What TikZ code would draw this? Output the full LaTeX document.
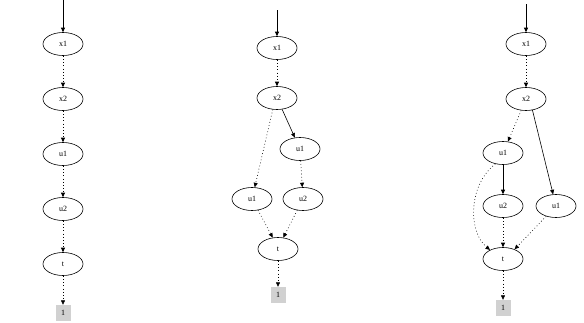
\documentclass[tikz,border=0pt]{standalone}
\usepackage{fontspec}
\setmainfont{Liberation Serif}
\usetikzlibrary{arrows.meta,shapes.geometric}
\begin{document}
\begin{tikzpicture}[x=1pt,y=-1pt,
  var/.style={draw,ellipse,line width=0.6pt,minimum width=40pt,minimum height=23pt,inner sep=0pt,font=\fontsize{8}{9}\selectfont},
  term/.style={fill=black!18,minimum width=15pt,minimum height=16pt,inner sep=0pt,font=\fontsize{8}{9}\selectfont},
  arr/.style={line width=0.6pt,-{Triangle[length=4.5pt,width=4pt]}},
  dot/.style={arr,dash pattern=on 0.8pt off 2.4pt}]
\useasboundingbox (0,0) rectangle (584,322);
% panel 1
\coordinate (s1) at (63,0);
\node[var] (ax1) at (63,44) {x1};
\node[var] (ax2) at (63,99) {x2};
\node[var] (au1) at (63,154) {u1};
\node[var] (au2) at (63,209) {u2};
\node[var] (at) at (63,264) {t};
\node[term] (a1) at (63,313) {1};
\draw[arr] (s1) -- (ax1);
\draw[dot] (ax1) -- (ax2);
\draw[dot] (ax2) -- (au1);
\draw[dot] (au1) -- (au2);
\draw[dot] (au2) -- (at);
\draw[dot] (at) -- (a1);
% panel 2
\coordinate (s2) at (277,10);
\node[var] (bx1) at (277,48) {x1};
\node[var] (bx2) at (277,98) {x2};
\node[var] (bu1r) at (300,149) {u1};
\node[var] (bu1l) at (252,199) {u1};
\node[var] (bu2) at (303,199) {u2};
\node[var] (bt) at (278,249) {t};
\node[term] (b1) at (278,295) {1};
\draw[arr] (s2) -- (bx1);
\draw[dot] (bx1) -- (bx2);
\draw[arr] (bx2) -- (bu1r);
\draw[dot] (bx2.250) -- (bu1l);
\draw[dot] (bu1r) -- (bu2);
\draw[dot] (bu1l) -- (bt.115);
\draw[dot] (bu2) -- (bt.65);
\draw[dot] (bt) -- (b1);
% panel 3
\coordinate (s3) at (526,4);
\node[var] (cx1) at (526,44) {x1};
\node[var] (cx2) at (526,99) {x2};
\node[var] (cu1l) at (503,153) {u1};
\node[var] (cu2) at (503,206) {u2};
\node[var] (cu1r) at (556,206) {u1};
\node[var] (ct) at (503,259) {t};
\node[term] (c1) at (503,308) {1};
\draw[arr] (s3) -- (cx1);
\draw[dot] (cx1) -- (cx2);
\draw[dot] (cx2) -- (cu1l);
\draw[arr] (cx2.300) -- (cu1r);
\draw[arr] (cu1l) -- (cu2);
\draw[dot] (cu1l.235) .. controls (468,185) and (468,232) .. (ct.145);
\draw[dot] (cu2) -- (ct);
\draw[dot] (cu1r) -- (ct.40);
\draw[dot] (ct) -- (c1);
\end{tikzpicture}
\end{document}
